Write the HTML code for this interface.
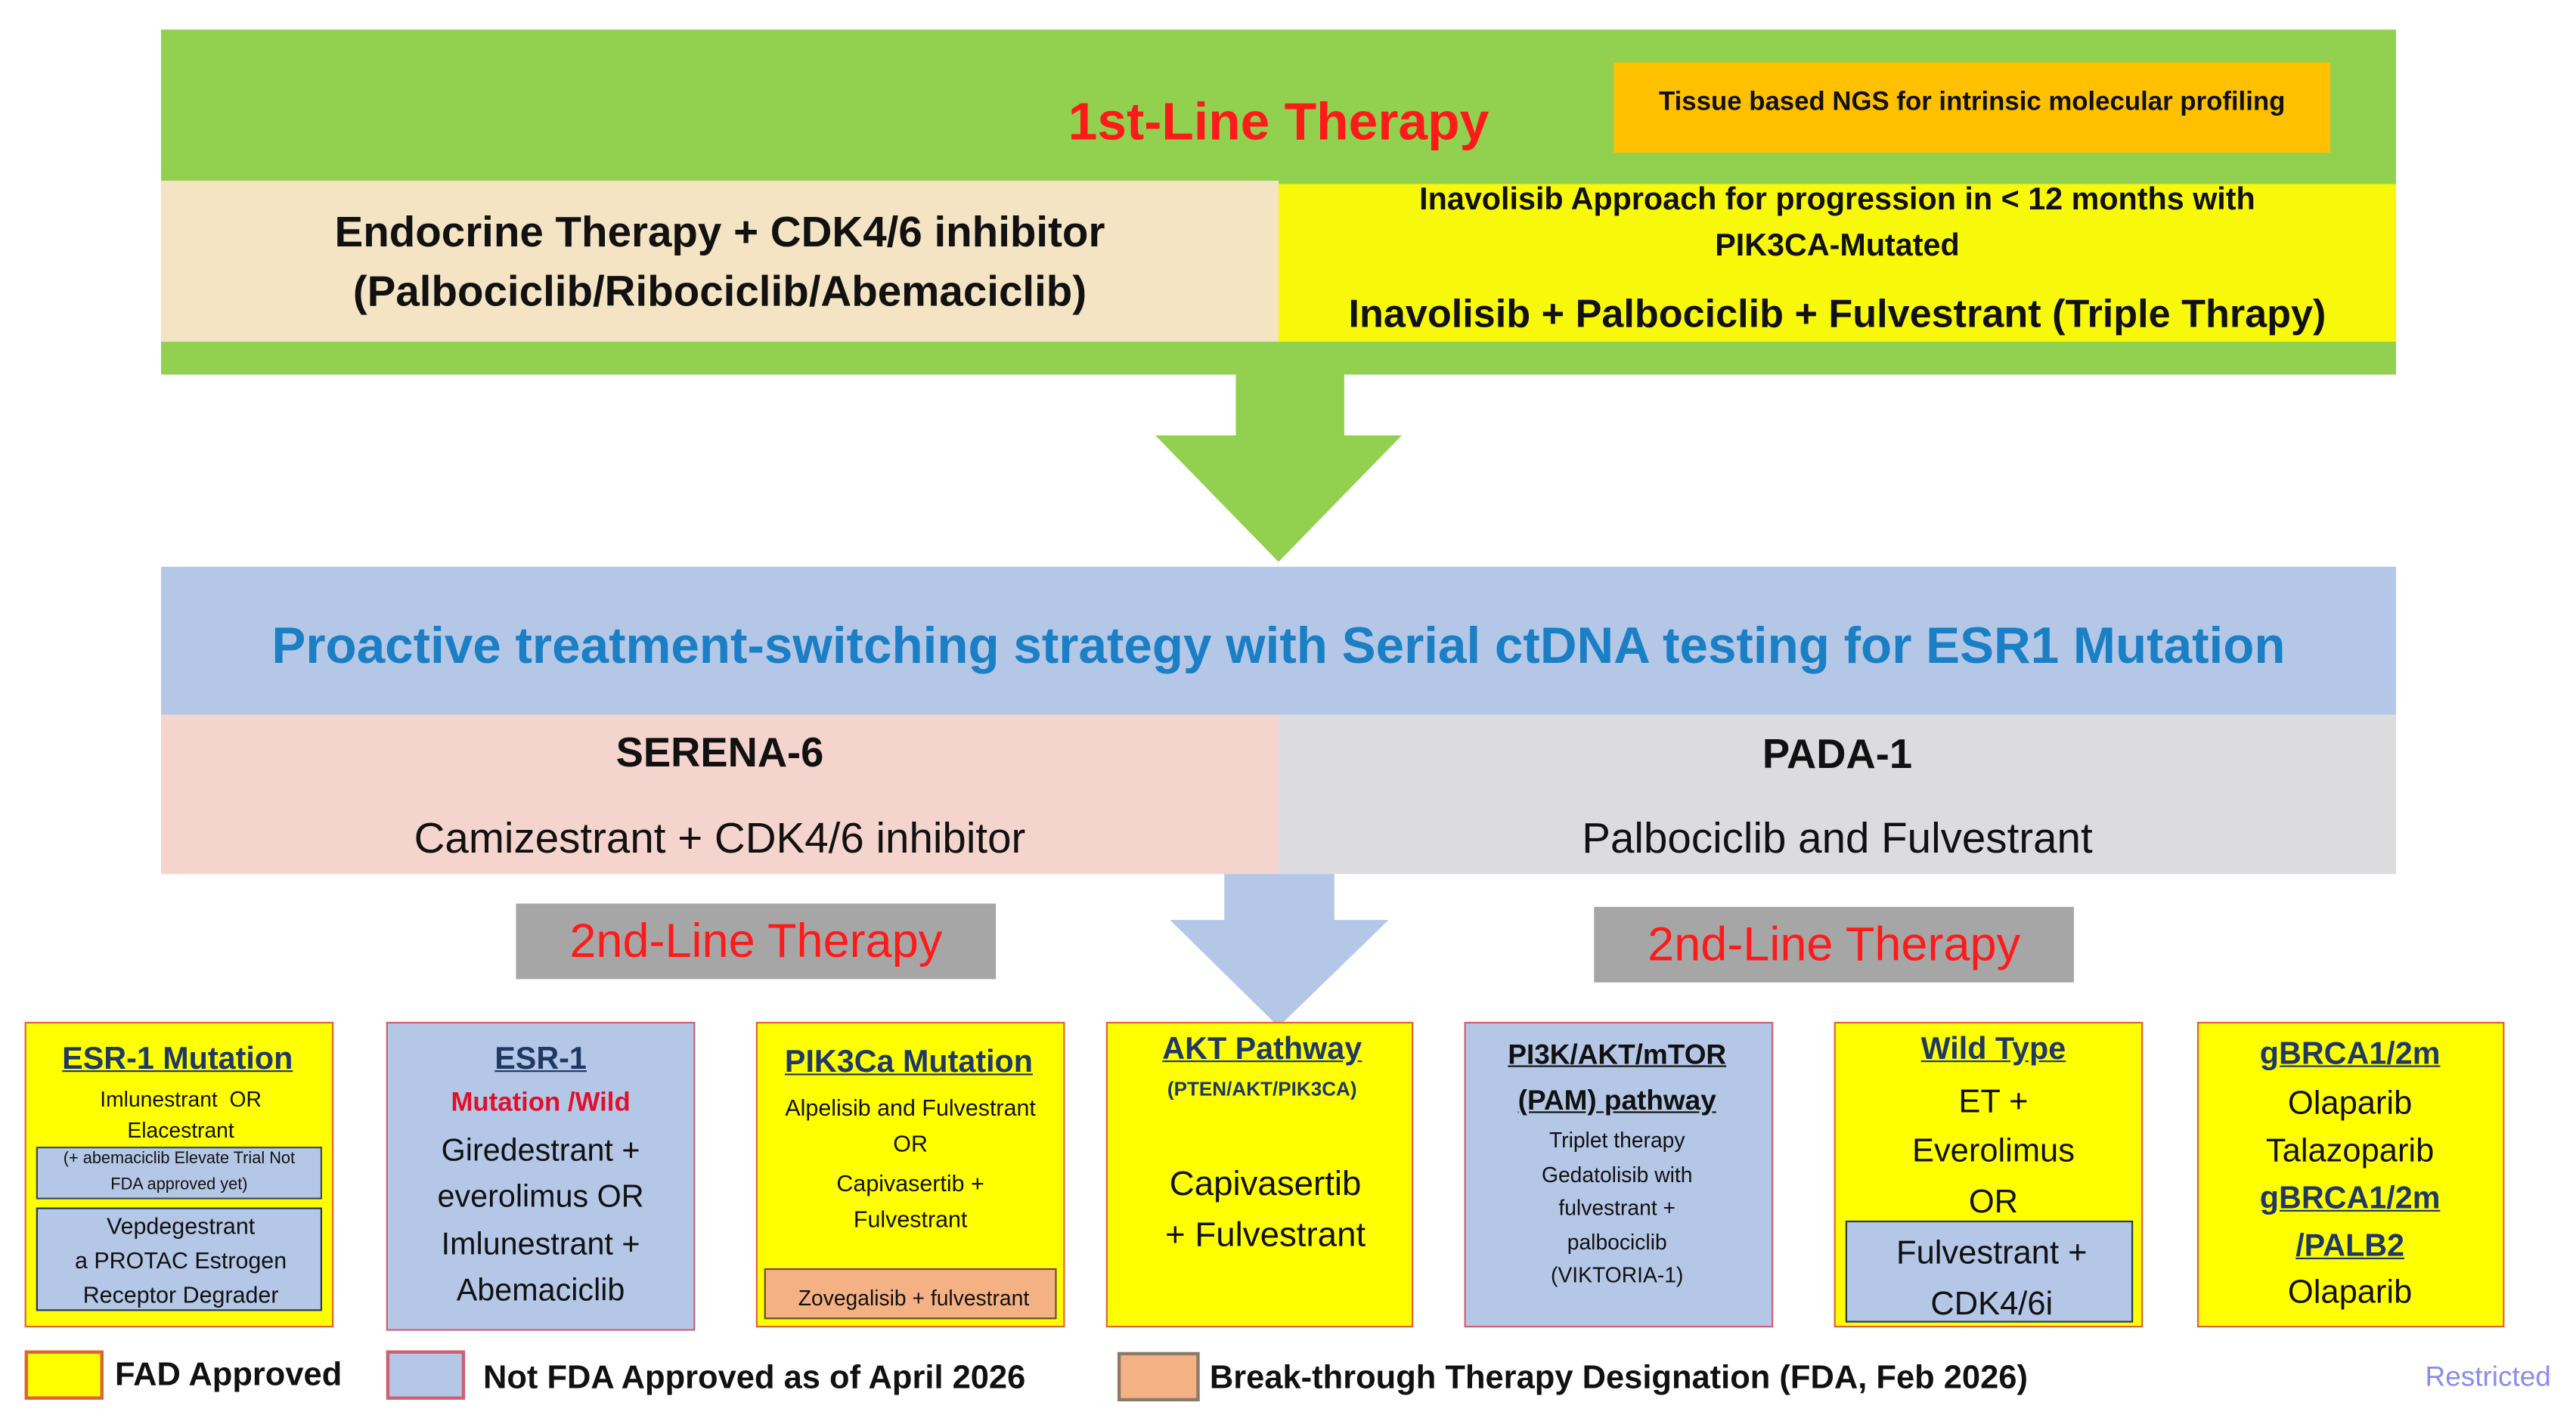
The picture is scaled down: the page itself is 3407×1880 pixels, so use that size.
<!DOCTYPE html>
<html><head><meta charset="utf-8"><style>
html,body{margin:0;padding:0;background:#fff;}
body{width:3407px;height:1880px;overflow:hidden;position:relative;}
#c{position:absolute;left:0;top:0;width:1568px;height:865px;transform:scale(2.1735);transform-origin:0 0;font-family:"Liberation Sans Narrow","Liberation Sans",sans-serif;}
.r{position:absolute;box-sizing:border-box;}
.t{position:absolute;white-space:nowrap;line-height:1;transform:translate(-50%,-50%);text-align:center;color:#111;}
.b{font-weight:bold;}
.u{text-decoration:underline;color:#1f3864;font-weight:bold;}
.bx{position:absolute;box-sizing:border-box;border:1.5px solid #e0603a;}
</style></head><body><div id="c">
<div class="r" style="left:98px;top:18px;width:1360px;height:210px;background:#92d050"></div>
<div class="r" style="left:982px;top:38px;width:436px;height:55px;background:#ffc000"></div>
<div class="t b" style="left:1200px;top:63px;font-size:16px;">Tissue based NGS for intrinsic molecular profiling</div>
<div class="t b" style="left:778px;top:74px;font-size:32px;color:#ff1a1a;">1st-Line Therapy</div>
<div class="r" style="left:98px;top:110px;width:680px;height:98px;background:#f4e4c4"></div>
<div class="r" style="left:778px;top:112px;width:680px;height:96px;background:#f8f80a"></div>
<div class="t b" style="left:438px;top:141px;font-size:26px;">Endocrine Therapy + CDK4/6 inhibitor</div>
<div class="t b" style="left:438px;top:177px;font-size:26px;">(Palbociclib/Ribociclib/Abemaciclib)</div>
<div class="t b" style="left:1118px;top:122px;font-size:19px;">Inavolisib Approach for progression in &lt; 12 months with</div>
<div class="t b" style="left:1118px;top:150px;font-size:19px;">PIK3CA-Mutated</div>
<div class="t b" style="left:1118px;top:192px;font-size:24px;">Inavolisib + Palbociclib + Fulvestrant (Triple Thrapy)</div>
<svg class="r" style="left:0;top:0" width="1568" height="865"><polygon points="752,228 818,228 818,265 853,265 778,342 703,265 752,265" fill="#92d050"/></svg>
<div class="r" style="left:98px;top:345px;width:1360px;height:90px;background:#b4c7e7"></div>
<div class="t b" style="left:778px;top:393px;font-size:31px;color:#1a7fc4;">Proactive treatment-switching strategy with Serial ctDNA testing for ESR1 Mutation</div>
<div class="r" style="left:98px;top:435px;width:680px;height:97px;background:#f4d4cc"></div>
<div class="r" style="left:778px;top:435px;width:680px;height:97px;background:#dcdcdf"></div>
<div class="t b" style="left:438px;top:459px;font-size:25px;">SERENA-6</div>
<div class="t" style="left:438px;top:510px;font-size:26px;">Camizestrant + CDK4/6 inhibitor</div>
<div class="t b" style="left:1118px;top:460px;font-size:25px;">PADA-1</div>
<div class="t" style="left:1118px;top:510px;font-size:26px;">Palbociclib and Fulvestrant</div>
<svg class="r" style="left:0;top:0" width="1568" height="865"><polygon points="745,532 812,532 812,560 845,560 778,625 712,560 745,560" fill="#b4c7e7"/></svg>
<div class="r" style="left:314px;top:550px;width:292px;height:46px;background:#a6a6a6"></div>
<div class="t" style="left:460px;top:574px;font-size:29px;color:#ff1a1a;">2nd-Line Therapy</div>
<div class="r" style="left:970px;top:552px;width:292px;height:46px;background:#a6a6a6"></div>
<div class="t" style="left:1116px;top:576px;font-size:29px;color:#ff1a1a;">2nd-Line Therapy</div>
<div class="bx" style="left:15px;top:622px;width:188px;height:186px;background:#ffff00"></div>
<div class="t u" style="left:108px;top:645px;font-size:19px;">ESR-1 Mutation</div>
<div class="t" style="left:110px;top:669px;font-size:13px;">Imlunestrant&nbsp; OR</div>
<div class="t" style="left:110px;top:688px;font-size:13px;">Elacestrant</div>
<div class="r" style="left:22px;top:698px;width:174px;height:32px;background:#b4c7e7;border:1.5px solid #3a4a5a"></div>
<div class="t" style="left:109px;top:706px;font-size:10px;">(+ abemaciclib Elevate Trial Not</div>
<div class="t" style="left:109px;top:722px;font-size:10px;">FDA approved yet)</div>
<div class="r" style="left:22px;top:735px;width:174px;height:63px;background:#b4c7e7;border:1.5px solid #1f3864"></div>
<div class="t" style="left:110px;top:746px;font-size:14px;">Vepdegestrant</div>
<div class="t" style="left:110px;top:767px;font-size:14px;">a PROTAC Estrogen</div>
<div class="t" style="left:110px;top:788px;font-size:14px;">Receptor Degrader</div>
<div class="bx" style="left:235px;top:622px;width:188px;height:188px;background:#b4c7e7;border-color:#d06070"></div>
<div class="t u" style="left:329px;top:645px;font-size:19px;">ESR-1</div>
<div class="t b" style="left:329px;top:672px;font-size:16px;color:#e0102a;">Mutation /Wild</div>
<div class="t" style="left:329px;top:701px;font-size:19px;">Giredestrant +</div>
<div class="t" style="left:329px;top:729px;font-size:19px;">everolimus OR</div>
<div class="t" style="left:329px;top:758px;font-size:19px;">Imlunestrant +</div>
<div class="t" style="left:329px;top:786px;font-size:19px;">Abemaciclib</div>
<div class="bx" style="left:460px;top:622px;width:188px;height:186px;background:#ffff00"></div>
<div class="t u" style="left:553px;top:647px;font-size:19px;">PIK3Ca Mutation</div>
<div class="t" style="left:554px;top:674px;font-size:14px;">Alpelisib and Fulvestrant</div>
<div class="t" style="left:554px;top:696px;font-size:14px;">OR</div>
<div class="t" style="left:554px;top:720px;font-size:14px;">Capivasertib +</div>
<div class="t" style="left:554px;top:742px;font-size:14px;">Fulvestrant</div>
<div class="r" style="left:465px;top:772px;width:178px;height:31px;background:#f4b183;border:1.5px solid #6a5020"></div>
<div class="t" style="left:556px;top:790px;font-size:13px;">Zovegalisib + fulvestrant</div>
<div class="bx" style="left:673px;top:622px;width:187px;height:186px;background:#ffff00"></div>
<div class="t u" style="left:768px;top:639px;font-size:19px;">AKT Pathway</div>
<div class="t b" style="left:768px;top:663px;font-size:12px;color:#1f3864;">(PTEN/AKT/PIK3CA)</div>
<div class="t" style="left:770px;top:721px;font-size:21px;">Capivasertib</div>
<div class="t" style="left:770px;top:752px;font-size:21px;">+ Fulvestrant</div>
<div class="bx" style="left:891px;top:622px;width:188px;height:186px;background:#b4c7e7;border-color:#d06070"></div>
<div class="t u" style="left:984px;top:642px;font-size:17px;color:#111;">PI3K/AKT/mTOR</div>
<div class="t u" style="left:984px;top:670px;font-size:17px;color:#111;">(PAM) pathway</div>
<div class="t" style="left:984px;top:694px;font-size:13px;">Triplet therapy</div>
<div class="t" style="left:984px;top:715px;font-size:13px;">Gedatolisib with</div>
<div class="t" style="left:984px;top:735px;font-size:13px;">fulvestrant +</div>
<div class="t" style="left:984px;top:756px;font-size:13px;">palbociclib</div>
<div class="t" style="left:984px;top:776px;font-size:13px;">(VIKTORIA-1)</div>
<div class="bx" style="left:1116px;top:622px;width:188px;height:186px;background:#ffff00"></div>
<div class="t u" style="left:1213px;top:639px;font-size:19px;">Wild Type</div>
<div class="t" style="left:1213px;top:671px;font-size:20px;">ET +</div>
<div class="t" style="left:1213px;top:701px;font-size:20px;">Everolimus</div>
<div class="t" style="left:1213px;top:732px;font-size:20px;">OR</div>
<div class="r" style="left:1123px;top:743px;width:175px;height:62px;background:#b4c7e7;border:1.5px solid #2a3a4a"></div>
<div class="t" style="left:1212px;top:763px;font-size:20px;">Fulvestrant +</div>
<div class="t" style="left:1212px;top:794px;font-size:20px;">CDK4/6i</div>
<div class="bx" style="left:1337px;top:622px;width:187px;height:186px;background:#ffff00"></div>
<div class="t u" style="left:1430px;top:642px;font-size:19px;">gBRCA1/2m</div>
<div class="t" style="left:1430px;top:672px;font-size:20px;">Olaparib</div>
<div class="t" style="left:1430px;top:701px;font-size:20px;">Talazoparib</div>
<div class="t u" style="left:1430px;top:730px;font-size:19px;">gBRCA1/2m</div>
<div class="t u" style="left:1430px;top:759px;font-size:19px;">/PALB2</div>
<div class="t" style="left:1430px;top:787px;font-size:20px;">Olaparib</div>
<div class="r" style="left:15px;top:822px;width:48px;height:30px;background:#ffff00;border:2px solid #e0603a"></div>
<div class="t b" style="left:139px;top:837px;font-size:20px;">FAD Approved</div>
<div class="r" style="left:235px;top:822px;width:48px;height:30px;background:#b4c7e7;border:2px solid #d06070"></div>
<div class="t b" style="left:459px;top:839px;font-size:20px;">Not FDA Approved as of April 2026</div>
<div class="r" style="left:680px;top:823px;width:50px;height:30px;background:#f4b183;border:2px solid #8a7a6a"></div>
<div class="t b" style="left:985px;top:839px;font-size:20px;">Break-through Therapy Designation (FDA, Feb 2026)</div>
<div class="t" style="left:1514px;top:838px;font-size:17px;color:#8b8bf0;">Restricted</div>
</div></body></html>
